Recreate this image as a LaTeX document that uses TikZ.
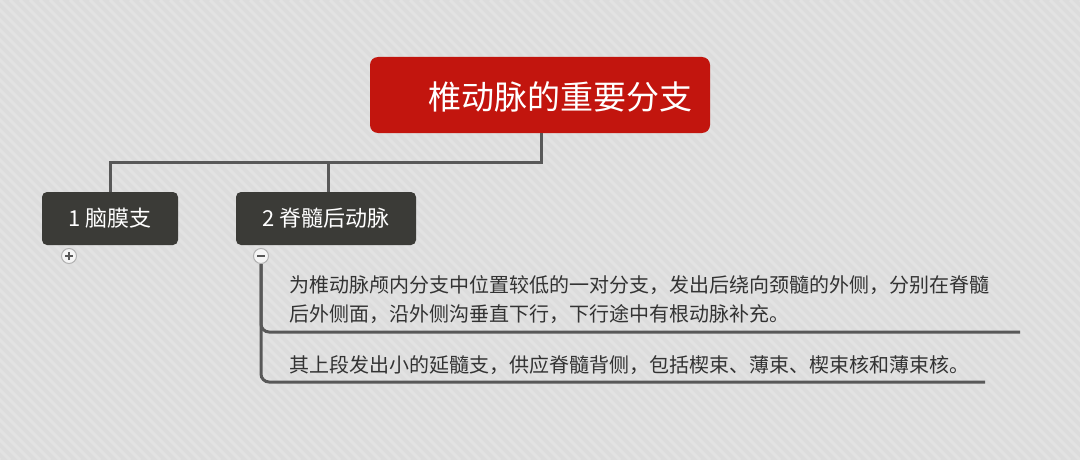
\documentclass[tikz,border=0pt]{standalone}
\usepackage{fontspec}
\setmainfont{Noto Sans CJK SC}
\definecolor{bgc}{HTML}{DCDCDC}
\definecolor{stripec}{HTML}{E2E2E2}
\definecolor{rootc}{HTML}{C2150E}
\definecolor{nodec}{HTML}{3B3B37}
\definecolor{linec}{HTML}{585858}
\definecolor{txtc}{HTML}{333333}
\begin{document}
\begin{tikzpicture}[x=1pt,y=-1pt,
  conn/.style={draw=linec, line width=3pt},
  rootbox/.style={fill=rootc, rounded corners=8pt, minimum width=340pt, minimum height=76pt, inner sep=0pt},
  topicbox/.style={fill=nodec, rounded corners=5pt, minimum height=53pt, inner sep=0pt, text=white, font=\fontsize{22}{26}\selectfont},
  toggle/.style={circle, draw=gray!60, line width=1pt, fill=white!92!gray, minimum size=15pt, inner sep=0pt},
  desc/.style={text=txtc, align=left, inner sep=0pt, anchor=west, font=\fontsize{20}{29}\selectfont}
]
\useasboundingbox (0,0) rectangle (1080,460);
\fill[bgc] (0,0) rectangle (1080,460);
\begin{scope}
\clip (0,0) rectangle (1080,460);
\foreach \i in {-50,...,110} \draw[stripec, line width=3pt] (\i*10,0) -- ++(460,460);
\end{scope}

\node[rootbox] (root) at (540,95) {};
\node[text=white, inner sep=0pt, font=\fontsize{33}{38}\selectfont] (roottxt) at (560,97) {椎动脉的重要分支};

\node[topicbox, minimum width=136pt] (n1) at (110,218.5) {1 脑膜支};
\node[topicbox, minimum width=180pt] (n2) at (326,218.5) {2 脊髓后动脉};

\draw[conn] (541,133) -- (541,162) -| (n1.north);
\draw[conn] (328,162) -- (328,192);

\node[toggle] (plus1) at (69,256) {};
\draw[linec, line width=1.6pt] (plus1.center) +(-4,0) -- +(4,0) (plus1.center) +(0,-4) -- +(0,4);
\node[toggle] (minus2) at (261,256) {};
\draw[linec, line width=1.6pt] (minus2.center) +(-4,0) -- +(4,0);

\coordinate (e1) at (1020,332);
\coordinate (e2) at (985,382);
\draw[conn, rounded corners=8pt] (minus2.south) |- (e1);
\draw[conn, rounded corners=8pt] (minus2.south) |- (e2);

\node[desc] (t1) at (289,299.5) {为椎动脉颅内分支中位置较低的一对分支，发出后绕向颈髓的外侧，分别在脊髓\\后外侧面，沿外侧沟垂直下行，下行途中有根动脉补充。};
\node[desc] (t2) at (289,365) {其上段发出小的延髓支，供应脊髓背侧，包括楔束、薄束、楔束核和薄束核。};
\end{tikzpicture}
\end{document}
